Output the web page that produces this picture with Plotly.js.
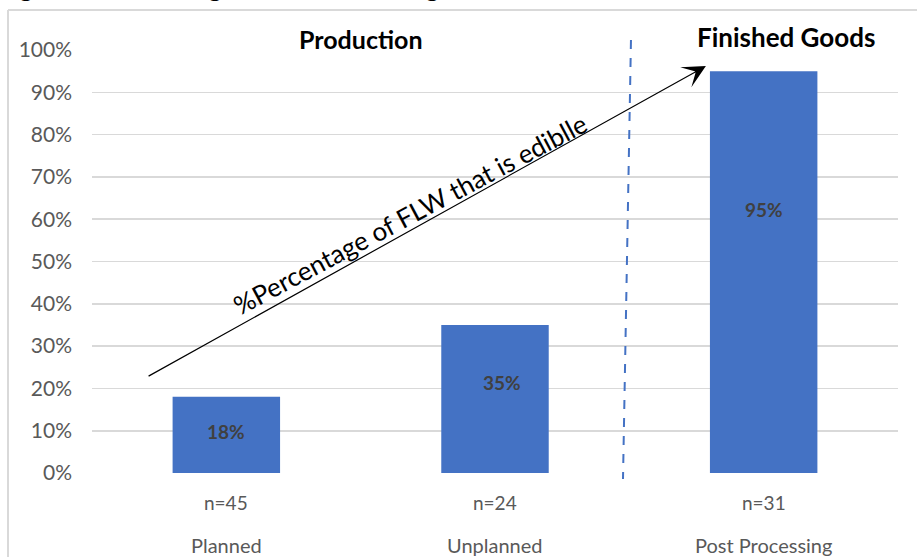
<!DOCTYPE html>
<html>
<head>
<meta charset="utf-8">
<script src="https://cdn.plot.ly/plotly-3.0.1.min.js"></script>
<style>
  html, body { margin: 0; padding: 0; background: #ffffff; }
  #chart { width: 917px; height: 557px; }
</style>
</head>
<body>
<div id="chart"></div>
<script>
// Share of food loss and waste (FLW) that is edible, by stage
const categories = ['Planned', 'Unplanned', 'Post Processing'];
const sampleSizes = [45, 24, 31];
const edibleShare = [18, 35, 95];
const yTickValues = [0, 10, 20, 30, 40, 50, 60, 70, 80, 90, 100];
const groupTitles = ['Production', 'Finished Goods'];
const trendLabel = '%Percentage of FLW that is ediblle';
const figureCaption = 'Figure 4: Processing and Manufacturing';

const FONT = 'Lato, "Open Sans", sans-serif';
const BAR_BLUE = '#4472C4';
const GRID = '#d9d9d9';
const TEXT_GRAY = '#595959';

// vertical offsets (data units) for the in-bar value labels
const labelHeights = [9.7, 21.5, 62.4];
const labelShiftX = [0, 7, 0];

const bars = {
  type: 'bar',
  x: categories,
  y: edibleShare,
  width: 0.4,
  marker: { color: BAR_BLUE },
  hoverinfo: 'skip'
};

const annotations = [];

// value labels inside bars
categories.forEach((c, i) => {
  annotations.push({
    x: c, y: labelHeights[i], xref: 'x', yref: 'y',
    text: '<b>' + edibleShare[i] + '%</b>',
    showarrow: false, xshift: labelShiftX[i], xanchor: 'center',
    font: { family: FONT, size: 19, color: '#404040' }
  });
});

// sample sizes and stage names under the axis
categories.forEach((c, i) => {
  annotations.push({
    x: c, y: -0.0709, xref: 'x', yref: 'paper',
    text: 'n=' + sampleSizes[i], showarrow: false,
    xanchor: 'center', yanchor: 'middle',
    font: { family: FONT, size: 19, color: TEXT_GRAY }
  });
  annotations.push({
    x: c, y: -0.171, xref: 'x', yref: 'paper',
    text: c, showarrow: false,
    xanchor: 'center', yanchor: 'middle',
    font: { family: FONT, size: 20, color: TEXT_GRAY }
  });
});

// group headings
annotations.push({
  x: 0.3337, y: 1.026, xref: 'paper', yref: 'paper',
  text: '<b>' + groupTitles[0] + '</b>', showarrow: false,
  xanchor: 'center', yanchor: 'middle',
  font: { family: FONT, size: 25, color: '#000000' }
});
annotations.push({
  x: 0.861, y: 1.031, xref: 'paper', yref: 'paper',
  text: '<b>' + groupTitles[1] + '</b>', showarrow: false,
  xanchor: 'center', yanchor: 'middle',
  font: { family: FONT, size: 26, color: '#000000' }
});

// rising trend arrow with its label
annotations.push({
  x: 1.785, y: 96.2, xref: 'x', yref: 'y',
  ax: -0.295, ay: 22.7, axref: 'x', ayref: 'y',
  text: '', showarrow: true,
  arrowhead: 3, arrowsize: 3.2, arrowwidth: 1.2, arrowcolor: '#000000'
});
annotations.push({
  x: 0.684, y: 61.3, xref: 'x', yref: 'y',
  text: trendLabel, showarrow: false, textangle: -28,
  xanchor: 'center', yanchor: 'middle',
  font: { family: FONT, size: 26, color: '#000000' }
});

// caption, mostly above the visible area
annotations.push({
  x: -0.118, y: 1.109, xref: 'paper', yref: 'paper',
  xanchor: 'left', yanchor: 'bottom',
  text: '<b>' + figureCaption + '</b>', showarrow: false,
  font: { family: FONT, size: 25, color: '#000000' }
});

const shapes = [
  // stage divider
  {
    type: 'line', xref: 'paper', yref: 'paper',
    x0: 0.6687, y0: 1.0236, x1: 0.6588, y1: -0.014,
    line: { color: BAR_BLUE, width: 2, dash: 'dash' }
  },
  // chart frame (left and top edges)
  {
    type: 'line', xref: 'paper', yref: 'paper',
    x0: -0.1042, y0: 1.0946, x1: -0.1042, y1: -0.25,
    line: { color: GRID, width: 2 }
  },
  {
    type: 'line', xref: 'paper', yref: 'paper',
    x0: -0.1042, y0: 1.0946, x1: 1.1, y1: 1.0946,
    line: { color: GRID, width: 2 }
  }
];

const layout = {
  width: 917,
  height: 557,
  margin: { l: 92, r: 19, t: 50, b: 84, pad: 0 },
  paper_bgcolor: '#ffffff',
  plot_bgcolor: '#ffffff',
  showlegend: false,
  font: { family: FONT, color: TEXT_GRAY },
  xaxis: {
    type: 'category',
    range: [-0.5, 2.5],
    showticklabels: false,
    showgrid: false,
    zeroline: false,
    showline: false,
    ticks: ''
  },
  yaxis: {
    range: [0, 100],
    tickvals: yTickValues,
    ticktext: yTickValues.map(v => v + '%'),
    showgrid: true,
    gridcolor: GRID,
    gridwidth: 1.6,
    zeroline: false,
    showline: false,
    ticks: '',
    ticklabelstandoff: 19,
    tickfont: { family: FONT, size: 21, color: TEXT_GRAY }
  },
  annotations: annotations,
  shapes: shapes
};

Plotly.newPlot('chart', [bars], layout, { displayModeBar: false, staticPlot: true });
</script>
</body>
</html>
